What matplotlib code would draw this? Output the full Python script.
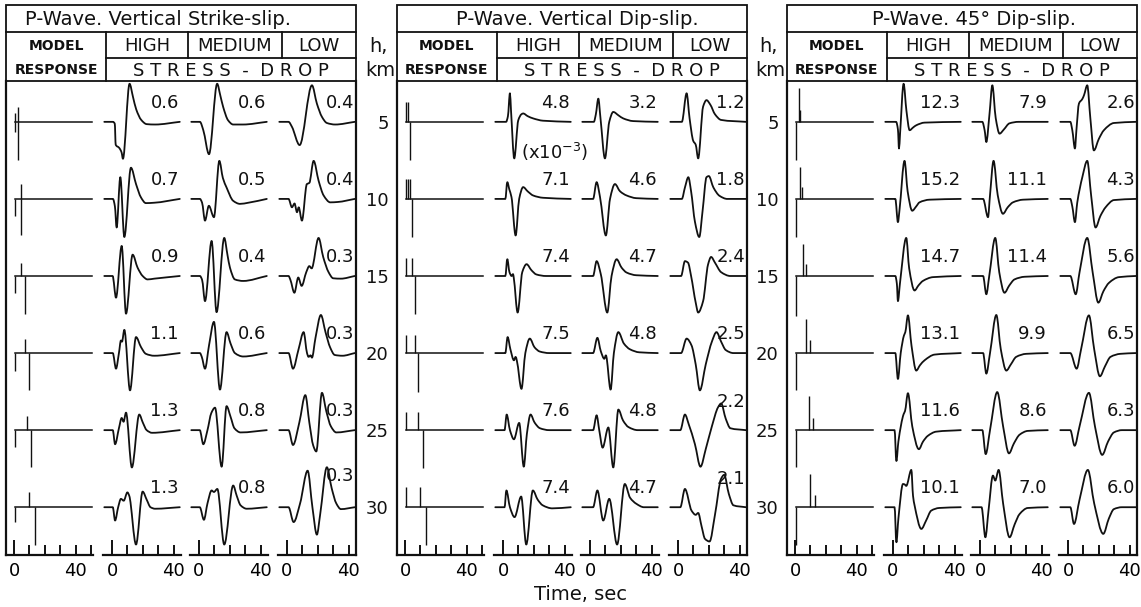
import matplotlib
matplotlib.use("Agg")
import matplotlib.pyplot as plt
from matplotlib.patches import Rectangle, PathPatch
from matplotlib.path import Path
from matplotlib.ticker import FixedLocator, FixedFormatter

# ---------------------------------------------------------------- data
DEPTHS = [5, 10, 15, 20, 25, 30]
TITLES = ["P-Wave. Vertical Strike-slip.",
          "P-Wave. Vertical Dip-slip.",
          "P-Wave. 45\u00b0 Dip-slip."]
STRESS_LEVELS = ["HIGH", "MEDIUM", "LOW"]

# peak amplitudes printed beside each trace (rows: depth, cols: HIGH/MEDIUM/LOW)
SS_AMPS = [[0.6, 0.6, 0.4], [0.7, 0.5, 0.4], [0.9, 0.4, 0.3],
           [1.1, 0.6, 0.3], [1.3, 0.8, 0.3], [1.3, 0.8, 0.3]]
DS_AMPS = [[4.8, 3.2, 1.2], [7.1, 4.6, 1.8], [7.4, 4.7, 2.4],
           [7.5, 4.8, 2.5], [7.6, 4.8, 2.2], [7.4, 4.7, 2.1]]
D45_AMPS = [[12.3, 7.9, 2.6], [15.2, 11.1, 4.3], [14.7, 11.4, 5.6],
            [13.1, 9.9, 6.5], [11.6, 8.6, 6.3], [10.1, 7.0, 6.0]]

# model (impulse) responses: (time s, relative amplitude) per depth
SS_SPIKES = [
    [(0.5, -0.26), (0.5, 0.22), (2.9, 0.39), (2.9, -1.0)],
    [(0.5, -0.44), (4.8, 0.39), (4.8, -0.96)],
    [(0.5, -0.44), (4.8, 0.35), (7.0, -1.0)],
    [(0.5, -0.46), (7.0, 0.38), (9.7, -0.98)],
    [(0.5, -0.44), (8.2, 0.36), (10.8, -0.98)],
    [(0.5, -0.39), (9.5, 0.39), (13.4, -0.98)],
]
DS_SPIKES = [
    [(0.5, 0.53), (2.2, 0.53), (3.4, -1.0)],
    [(0.5, 0.53), (2.0, 0.53), (3.3, 0.53), (4.8, -1.0)],
    [(0.5, 0.48), (4.8, 0.48), (6.7, -1.0)],
    [(0.5, 0.48), (6.7, 0.48), (8.5, -1.02)],
    [(0.5, 0.48), (8.5, 0.48), (11.7, -1.0)],
    [(0.5, 0.53), (9.5, 0.53), (13.4, -1.0)],
]
D45_SPIKES = [
    [(0.5, -1.0), (2.7, 0.88), (3.5, 0.31)],
    [(0.5, -1.0), (3.5, 0.85), (4.8, 0.31)],
    [(0.5, -1.05), (5.5, 0.85), (7.0, 0.32)],
    [(0.5, -0.98), (7.4, 0.9), (9.5, 0.35)],
    [(0.5, -0.98), (9.1, 0.9), (11.7, 0.33)],
    [(0.5, -0.98), (9.7, 0.87), (13.0, 0.32)],
]

# synthetic seismograms: (time s, normalised amplitude) per depth
SS_HIGH = [
    [(-5, 0), (0.6, 0), (1.8, -0.05), (2.4, -0.6), (4.6, -0.68), (6.2, -0.8), (7.1, -0.97), (11.4, 1.0),
     (13.6, 0.66), (15.7, 0.33), (19, 0.05), (22.5, -0.06), (28, -0.07), (44, 0)],
    [(-5, 0), (0.6, 0), (1.9, -0.2), (3.0, -0.75), (5.4, 0.57), (8.0, -1.0), (12.3, 0.82), (15.6, 0.39),
     (18.8, 0.04), (22, -0.11), (27.4, -0.1), (44, 0)],
    [(-5, 0), (0.4, 0), (2.6, -0.57), (6.3, 0.79), (9.1, -0.99), (13.4, 0.56), (16.6, 0.22), (19.9, 0.0),
     (23.1, -0.09), (27.4, -0.07), (44, 0)],
    [(-5, 0), (0.5, 0), (2.6, -0.41), (4.5, 0.0), (5.8, 0.33), (6.5, 0.3), (8.0, 0.61), (11.7, -0.98),
     (15.6, 0.42), (18.8, 0.16), (22, -0.02), (27.4, -0.07), (44, 0)],
    [(-5, 0), (0.5, 0), (2.0, -0.37), (4.5, 0.05), (6.3, 0.32), (7.5, 0.22), (9.1, 0.46), (12.9, -0.98),
     (17.7, 0.41), (20, 0.2), (22.5, 0.0), (26, -0.07), (44, 0)],
    [(-5, 0), (0.5, 0), (2.0, -0.35), (4.0, 0.0), (5.8, 0.22), (7.6, 0.17), (10.0, 0.39), (11.2, 0.3),
     (15.6, -0.98), (19.9, 0.41), (22.5, 0.2), (25, 0.0), (28, -0.04), (44, 0)],
]
SS_MEDIUM = [
    [(-5, 0), (0.6, 0), (2.8, -0.22), (6.5, -0.85), (11.8, 1.0), (13.8, 0.7), (15.7, 0.39), (18.9, 0.04),
     (22.2, -0.07), (28.6, -0.07), (44, 0)],
    [(-5, 0), (0.6, 0), (2.0, -0.1), (3.9, -0.57), (6.4, -0.18), (9.7, -0.48), (13.2, 1.0), (15.5, 0.55),
     (17.9, 0.3), (22.2, -0.05), (26.6, -0.13), (32, -0.1), (44, 0)],
    [(-5, 0), (0.6, 0), (2.0, -0.1), (3.9, -0.66), (8.2, 0.92), (11.4, -0.95), (16.4, 1.0), (18.5, 0.55),
     (20.1, 0.22), (23.3, -0.09), (28.7, -0.13), (44, 0)],
    [(-5, 0), (0.6, 0), (1.8, -0.1), (3.9, -0.41), (6.5, 0.2), (9.7, 0.82), (13.6, -0.96), (17.9, 0.55),
     (20.5, 0.25), (23.3, 0.0), (28.7, -0.09), (44, 0)],
    [(-5, 0), (0.5, 0), (2.8, -0.37), (5.5, 0.0), (8.0, 0.45), (10.4, 0.59), (14.7, -0.96), (17.9, 0.63),
     (20.5, 0.35), (23, 0.05), (27, -0.06), (44, 0)],
    [(-5, 0), (0.5, 0), (3.2, -0.33), (5.5, 0.1), (8.2, 0.44), (9.7, 0.4), (11.9, 0.48), (16.4, -0.98),
     (22.2, 0.57), (24.5, 0.3), (27, 0.05), (31, -0.04), (44, 0)],
]
SS_LOW = [
    [(-5, 0), (1.0, 0), (3.2, -0.13), (8.2, -0.61), (16.2, 0.96), (19.4, 0.48), (22.7, 0.13), (25.9, -0.03),
     (31.3, -0.07), (44, 0)],
    [(-5, 0), (1.0, 0), (3.2, -0.22), (4.9, -0.12), (6.5, -0.35), (7.6, -0.22), (9.7, -0.57), (12.9, 0.39),
     (14.5, 0.42), (17.3, 1.0), (20.5, 0.48), (23.8, 0.09), (28.1, -0.09), (33, -0.08), (44, 0)],
    [(-5, 0), (1.0, 0), (2.2, -0.1), (4.8, -0.44), (7.3, -0.04), (9.5, -0.26), (12.5, 0.1), (14.5, 0.26),
     (16, 0.2), (20.5, 1.0), (23.5, 0.5), (27, 0.1), (30, -0.06), (35, -0.07), (44, 0)],
    [(-5, 0), (1.0, 0), (3.9, -0.41), (7.5, 0.1), (10.8, 0.55), (13.0, 0.0), (14.0, -0.1), (15.3, -0.06),
     (16.2, -0.12), (18.5, 0.4), (22.0, 1.0), (25, 0.55), (28, 0.15), (31, -0.05), (36, -0.07), (44, 0)],
    [(-5, 0), (1.0, 0), (3.9, -0.39), (8.0, 0.2), (11.9, 0.92), (14.5, 0.2), (17, -0.4), (19.0, -0.56),
     (22.7, 0.98), (25.5, 0.5), (28.5, 0.1), (32, -0.06), (44, 0)],
    [(-5, 0), (1.0, 0), (4.3, -0.39), (8.5, 0.1), (13.4, 0.96), (16.5, 0.0), (19.4, -0.72), (21.5, -0.2),
     (25.9, 1.05), (29, 0.5), (32, 0.1), (35, -0.05), (44, 0)],
]
DS_HIGH = [
    [(-5, 0), (2.0, 0), (3.2, 0.15), (4.5, 0.75), (5.2, 0.3), (7.3, -0.96), (9.9, 0.04), (12.0, 0.2),
     (13.1, 0.22), (16, 0.15), (19.6, 0.09), (26, 0.03), (44, 0)],
    [(-5, 0), (1.5, 0), (2.8, 0.44), (4.1, 0.25), (5.5, 0.05), (8.2, -0.96), (10.5, 0.0), (13.1, 0.31),
     (16, 0.2), (19.6, 0.09), (26, 0.03), (44, 0)],
    [(-5, 0), (1.5, 0), (2.8, 0.44), (4.2, 0.1), (5.6, 0.0), (6.5, 0.05), (7.0, -0.05), (9.5, -0.96),
     (12.5, 0.1), (15.3, 0.31), (18.5, 0.15), (21.7, 0.04), (28, 0.0), (44, 0)],
    [(-5, 0), (1.5, 0), (3.0, 0.42), (4.8, 0.1), (7.1, -0.19), (8.2, -0.1), (9.0, -0.2), (12.0, -0.94),
     (14.5, 0.0), (17.4, 0.38), (20.5, 0.15), (23.9, 0.04), (30, 0.0), (44, 0)],
    [(-5, 0), (1.0, 0), (2.4, 0.41), (4.5, 0.0), (7.1, -0.24), (10.5, 0.19), (13.5, -0.96), (15.5, -0.1),
     (17.9, 0.41), (20.5, 0.2), (24, 0.05), (30, 0.0), (44, 0)],
    [(-5, 0), (1.0, 0), (2.2, 0.44), (4.5, 0.0), (7.5, -0.26), (11.8, 0.28), (15.1, -0.98), (19.4, 0.44),
     (22.5, 0.2), (25.8, 0.05), (32, -0.03), (44, 0)],
]
DS_MEDIUM = [
    [(-5, 0), (2.5, 0), (3.8, 0.2), (5.4, 0.61), (6.8, 0.1), (9.7, -0.96), (12.5, 0.0), (15.1, 0.26),
     (18.5, 0.17), (21.6, 0.09), (28, 0.02), (44, 0)],
    [(-5, 0), (2.0, 0), (4.3, 0.44), (6.5, 0.05), (10.3, -0.96), (13, 0.0), (16.2, 0.39), (19.5, 0.2),
     (23.8, 0.09), (30, 0.02), (44, 0)],
    [(-5, 0), (2.0, 0), (4.3, 0.39), (7.0, 0.05), (11.2, -0.96), (14, 0.0), (17.3, 0.44), (20.5, 0.22),
     (23.8, 0.09), (30, 0.02), (44, 0)],
    [(-5, 0), (2.0, 0), (4.8, 0.4), (7.0, 0.05), (9.3, -0.15), (10.3, -0.06), (13.4, -0.96), (15.5, 0.0),
     (18.4, 0.55), (22, 0.25), (25.9, 0.1), (32, 0.02), (44, 0)],
    [(-5, 0), (2.0, 0), (4.3, 0.39), (6.0, 0.0), (8.2, -0.46), (11.9, 0.07), (15.1, -0.98), (18.4, 0.54),
     (21.5, 0.25), (25, 0.08), (31, 0.0), (44, 0)],
    [(-5, 0), (2.0, 0), (4.8, 0.44), (8.6, -0.35), (12.5, 0.22), (17.6, -0.98), (22.6, 0.61), (26, 0.25),
     (30.1, 0.09), (35, 0.0), (44, 0)],
]
DS_LOW = [
    [(-5, 0), (2.5, 0), (5.6, 0.75), (7.5, 0.1), (9.9, -0.5), (11.5, -0.6), (13.1, -0.96), (16.3, 0.4),
     (18.5, 0.57), (21, 0.45), (24, 0.2), (28, 0.05), (44, 0)],
    [(-5, 0), (2.5, 0), (4.5, 0.3), (6.7, 0.57), (8.5, 0.2), (11, -0.6), (13.8, -1.0), (16, -0.3),
     (18.5, 0.57), (20, 0.6), (23, 0.3), (27, 0.08), (32, 0.0), (44, 0)],
    [(-5, 0), (2.0, 0), (4.5, 0.39), (6.5, 0.35), (8.5, 0.0), (11.5, -0.7), (13.1, -0.96), (16.3, -0.66),
     (19.5, 0.3), (21.5, 0.5), (24, 0.35), (28, 0.1), (34, 0.0), (44, 0)],
    [(-5, 0), (2.0, 0), (5.6, 0.38), (8.8, 0.2), (11.5, -0.3), (14.2, -0.98), (18, -0.3), (22, 0.3),
     (25, 0.55), (28, 0.3), (31, 0.08), (36, 0.0), (44, 0)],
    [(-5, 0), (1.5, 0), (4.5, 0.41), (7.0, 0.15), (11, -0.37), (14.6, -0.96), (18, -0.5), (22, 0.1),
     (26, 0.6), (28, 0.7), (31, 0.3), (34, 0.05), (44, 0)],
    [(-5, 0), (1.5, 0), (4.5, 0.48), (8.8, -0.09), (11.5, -0.2), (13.1, -0.15), (15.3, -0.5), (17.5, -0.83),
     (20.5, -0.9), (24, -0.2), (28, 0.75), (30, 0.85), (33, 0.35), (36, 0.05), (44, 0)],
]
D45_HIGH = [
    [(-5, 0), (2.0, 0), (3.2, -0.2), (3.9, -0.7), (4.6, -0.3), (6.9, 1.0), (8.7, 0.3), (10.8, -0.22),
     (13, -0.15), (15.1, -0.09), (20.5, -0.02), (44, 0)],
    [(-5, 0), (1.5, 0), (3.2, -0.61), (4.2, -0.3), (7.5, 1.0), (9.5, 0.2), (12.5, -0.31), (15, -0.2),
     (17.2, -0.09), (23.7, -0.02), (44, 0)],
    [(-5, 0), (1.5, 0), (2.5, -0.2), (3.2, -0.66), (4.5, -0.2), (8.6, 1.0), (10.5, 0.2), (14, -0.38),
     (16.5, -0.25), (19.4, -0.13), (25.9, -0.03), (44, 0)],
    [(-5, 0), (1.5, 0), (3.2, -0.68), (5.0, 0.0), (7.1, 0.46), (8.0, 0.55), (9.7, 0.99), (12, 0.2),
     (15.1, -0.46), (17.5, -0.32), (20.5, -0.19), (27, -0.04), (44, 0)],
    [(-5, 0), (1.0, 0), (2.2, -0.81), (3.5, -0.3), (6.9, 0.42), (7.8, 0.5), (9.7, 0.97), (12.5, 0.1),
     (16.8, -0.5), (19.5, -0.3), (22.6, -0.15), (28, -0.04), (44, 0)],
    [(-5, 0), (1.0, 0), (2.2, -0.92), (3.5, -0.3), (6.5, 0.61), (7.5, 0.6), (8.6, 0.56), (11.9, 0.98),
     (13, 0.3), (14, 0.05), (18.4, -0.57), (21.5, -0.35), (24.8, -0.09), (30, -0.02), (44, 0)],
]
D45_MEDIUM = [
    [(-5, 0), (1.5, 0), (3.0, -0.22), (4.1, -0.53), (6.2, 0.22), (8.0, 0.96), (10.2, 0.1), (12.7, -0.31),
     (15.5, -0.2), (19.1, -0.04), (25, 0.0), (44, 0)],
    [(-5, 0), (2.0, 0), (5.2, -0.48), (6.5, 0.1), (8.8, 1.0), (11.5, 0.1), (14.9, -0.39), (18, -0.22),
     (21.4, -0.09), (27.9, -0.02), (44, 0)],
    [(-5, 0), (2.0, 0), (4.1, -0.48), (6.0, 0.0), (9.9, 1.0), (12.5, 0.1), (15.9, -0.44), (19, -0.25),
     (22.4, -0.09), (29, -0.02), (44, 0)],
    [(-5, 0), (2.0, 0), (4.1, -0.54), (6.5, 0.0), (10.6, 1.0), (13.5, 0.1), (17.1, -0.46), (20, -0.3),
     (23.5, -0.1), (30, -0.02), (44, 0)],
    [(-5, 0), (1.5, 0), (3.7, -0.63), (6.5, 0.0), (11.2, 1.0), (15, 0.1), (18.8, -0.61), (22, -0.35),
     (25.7, -0.12), (31, -0.02), (44, 0)],
    [(-5, 0), (1.0, 0), (3.5, -0.79), (5.5, -0.1), (8.4, 0.83), (9.9, 0.7), (12.1, 0.98), (15, 0.1),
     (19.2, -0.79), (22.5, -0.45), (25.7, -0.18), (31, -0.02), (44, 0)],
]
D45_LOW = [
    [(-5, 0), (1.5, 0), (2.8, -0.22), (4.5, -0.7), (5.5, -0.2), (7.1, 0.48), (9.3, 0.6), (10.4, 0.7),
     (12.5, 0.96), (14.5, 0.1), (16.8, -0.75), (20, -0.45), (23.3, -0.22), (29.8, -0.03), (44, 0)],
    [(-5, 0), (1.5, 0), (2.8, -0.2), (4.5, -0.61), (6.0, -0.1), (9.3, 0.57), (12.5, 1.0), (15, 0.1),
     (17.9, -0.75), (21, -0.45), (24.4, -0.22), (29.8, -0.03), (44, 0)],
    [(-5, 0), (1.5, 0), (5.0, -0.48), (7.5, 0.1), (12.5, 1.0), (16, 0.1), (19.7, -0.7), (23, -0.4),
     (26.6, -0.18), (33, -0.03), (44, 0)],
    [(-5, 0), (1.5, 0), (5.6, -0.41), (8.5, 0.1), (13.6, 0.99), (17, 0.1), (20.7, -0.61), (24, -0.35),
     (27.6, -0.1), (34, -0.02), (44, 0)],
    [(-5, 0), (1.5, 0), (4.3, -0.41), (7.5, 0.1), (13.6, 0.98), (17.5, 0.1), (22.2, -0.65), (26, -0.3),
     (29.8, -0.06), (35, 0.0), (44, 0)],
    [(-5, 0), (1.5, 0), (3.9, -0.44), (7.5, 0.2), (12.9, 0.98), (17, 0.1), (22.9, -0.7), (26.5, -0.3),
     (29.8, -0.05), (35, 0.0), (44, 0)],
]

PANEL_SPIKES = [SS_SPIKES, DS_SPIKES, D45_SPIKES]
PANEL_WAVES = [[SS_HIGH, SS_MEDIUM, SS_LOW],
               [DS_HIGH, DS_MEDIUM, DS_LOW],
               [D45_HIGH, D45_MEDIUM, D45_LOW]]
PANEL_AMPS = [SS_AMPS, DS_AMPS, D45_AMPS]

# ---------------------------------------------------------------- layout (pixels)
W, H = 1141, 607
INK = "#111111"
HEAD_TOP, ROW1, ROW2, HEAD_BOT, BODY_BOT = 5, 32, 58, 81, 555
PANEL_X = [6, 397, 787]
PANEL_W = 350
DIVIDERS = [100, 182, 276]          # header cell borders, from panel left edge
TICK0 = [8, 106, 193, 281]          # position of t = 0 for each column
PX_PER_S = 1.54
MODEL_XLIM = (-5.2, 51.0)
TRACE_XLIM = (-6.0, 44.5)
DEPTH_TOP, DEPTH_BOT = 2.35, 33.1
AMP_SCALE = 2.47                    # depth units per unit of normalised amplitude
TITLE_CX = [152, 180, 187]

plt.rcParams["font.family"] = ["DejaVu Sans"]

fig = plt.figure(figsize=(W / 100, H / 100), dpi=100)
fig.patch.set_facecolor("white")

over = fig.add_axes([0, 0, 1, 1])
over.set_xlim(0, W)
over.set_ylim(H, 0)
over.axis("off")


def px_axes(left, top, width, height):
    return fig.add_axes([left / W, 1 - (top + height) / H, width / W, height / H])


def frame_line(xs, ys):
    over.plot(xs, ys, color=INK, lw=1.3, solid_capstyle="projecting")


def smooth_trace_path(ts, ys):
    """Shape-preserving cubic (monotone Hermite) drawn as Bezier segments."""
    n = len(ts)
    h = [ts[i + 1] - ts[i] for i in range(n - 1)]
    d = [(ys[i + 1] - ys[i]) / h[i] for i in range(n - 1)]
    m = [0.0] * n
    m[0], m[-1] = d[0], d[-1]
    for i in range(1, n - 1):
        if d[i - 1] * d[i] <= 0:
            m[i] = 0.0
        else:
            w1 = 2 * h[i] + h[i - 1]
            w2 = h[i] + 2 * h[i - 1]
            m[i] = (w1 + w2) / (w1 / d[i - 1] + w2 / d[i])
    verts = [(ts[0], ys[0])]
    codes = [Path.MOVETO]
    for i in range(n - 1):
        k = h[i] / 3.0
        verts += [(ts[i] + k, ys[i] + m[i] * k),
                  (ts[i + 1] - k, ys[i + 1] - m[i + 1] * k),
                  (ts[i + 1], ys[i + 1])]
        codes += [Path.CURVE4] * 3
    return Path(verts, codes)


def time_axis(ax, xlim, minor):
    ax.set_xlim(*xlim)
    ax.set_ylim(DEPTH_BOT, DEPTH_TOP)
    ax.patch.set_visible(False)
    for side in ("top", "right", "left"):
        ax.spines[side].set_visible(False)
    for side in ("bottom", "left", "right"):
        ax.spines[side].set_linewidth(1.6)
        ax.spines[side].set_color(INK)
    ax.xaxis.set_major_locator(FixedLocator([0]))
    ax.xaxis.set_major_formatter(FixedFormatter(["0"]))
    ax.xaxis.set_minor_locator(FixedLocator(minor))
    ax.xaxis.set_minor_formatter(FixedFormatter(["40" if m == 40 else "" for m in minor]))
    ax.tick_params(axis="x", which="major", direction="in", length=11, width=1.4,
                   labelsize=13, pad=5, color=INK)
    ax.tick_params(axis="x", which="minor", direction="in", length=7, width=1.4,
                   labelsize=13, pad=5, color=INK)
    ax.set_yticks([])


label_lift = {(0, 5, 2): 0.8, (1, 4, 2): 0.6, (1, 5, 2): 0.6}

for p, title in enumerate(TITLES):
    P = PANEL_X[p]

    # ---- header table
    over.add_patch(Rectangle((P, HEAD_TOP), PANEL_W, HEAD_BOT - HEAD_TOP,
                             fill=False, lw=1.3, ec=INK))
    frame_line([P, P + PANEL_W], [ROW1, ROW1])
    frame_line([P + DIVIDERS[0], P + PANEL_W], [ROW2, ROW2])
    frame_line([P + DIVIDERS[0]] * 2, [ROW1, HEAD_BOT])
    frame_line([P + DIVIDERS[1]] * 2, [ROW1, ROW2])
    frame_line([P + DIVIDERS[2]] * 2, [ROW1, ROW2])

    over.text(P + TITLE_CX[p], (HEAD_TOP + ROW1) / 2 + 1, title, ha="center", va="center",
              fontsize=14, color=INK)
    over.text(P + 50, (ROW1 + ROW2) / 2 + 1, "MODEL", ha="center", va="center",
              fontsize=10, fontweight="bold", color=INK,
              family=["Liberation Sans Narrow", "DejaVu Sans"])
    over.text(P + 50, (ROW2 + HEAD_BOT) / 2 + 1, "RESPONSE", ha="center", va="center",
              fontsize=10, fontweight="bold", color=INK,
              family=["Liberation Sans Narrow", "DejaVu Sans"])
    cells = [DIVIDERS[0], DIVIDERS[1], DIVIDERS[2], PANEL_W]
    for c, level in enumerate(STRESS_LEVELS):
        over.text(P + (cells[c] + cells[c + 1]) / 2, (ROW1 + ROW2) / 2 + 1, level,
                  ha="center", va="center", fontsize=13, color=INK)
    over.text(P + (DIVIDERS[0] + PANEL_W) / 2, (ROW2 + HEAD_BOT) / 2 + 1,
              "S T R E S S  -  D R O P", ha="center", va="center", fontsize=13, color=INK)
    if p > 0:
        over.text(P - 19, (ROW1 + ROW2) / 2 + 1, "h,", ha="center", va="center",
                  fontsize=14, color=INK)
        over.text(P - 17, (ROW2 + HEAD_BOT) / 2 + 1, "km", ha="center", va="center",
                  fontsize=14, color=INK)

    # ---- model response column
    mw = (MODEL_XLIM[1] - MODEL_XLIM[0]) * PX_PER_S
    max_ = px_axes(P, HEAD_BOT, mw, BODY_BOT - HEAD_BOT)
    time_axis(max_, MODEL_XLIM, [10, 20, 30, 40, 50])
    max_.spines["left"].set_visible(True)
    if p > 0:
        max_.set_yticks(DEPTHS)
        max_.set_yticklabels([str(d) for d in DEPTHS])
        max_.tick_params(axis="y", length=0, pad=6, labelsize=13, labelcolor=INK)
    for d, spikes in zip(DEPTHS, PANEL_SPIKES[p]):
        ts = [s[0] for s in spikes]
        amps = [s[1] for s in spikes]
        max_.plot([ts[0], 50.5], [d, d], color=INK, lw=1.1)
        max_.vlines(ts, d, [d - AMP_SCALE * a for a in amps], color=INK, lw=1.0)

    # ---- stress-drop columns
    tw = (TRACE_XLIM[1] - TRACE_XLIM[0]) * PX_PER_S
    for c in range(3):
        left = P + TICK0[c + 1] + TRACE_XLIM[0] * PX_PER_S
        ax = px_axes(left, HEAD_BOT, tw, BODY_BOT - HEAD_BOT)
        time_axis(ax, TRACE_XLIM, [10, 20, 30, 40])
        if c == 2:
            ax.spines["right"].set_visible(True)
        for r, (d, knots) in enumerate(zip(DEPTHS, PANEL_WAVES[p][c])):
            ts = [k[0] for k in knots]
            ys = [d - AMP_SCALE * k[1] for k in knots]
            ax.add_patch(PathPatch(smooth_trace_path(ts, ys), fill=False, ec=INK,
                                   lw=1.3, joinstyle="round", capstyle="round"))
            lift = label_lift.get((p, r, c), 0.0)
            ax.text(43.5, d - 1.25 - lift, f"{PANEL_AMPS[p][r][c]:.1f}", ha="right",
                    va="center", fontsize=13, color=INK, clip_on=False)
        if p == 1 and c == 0:
            ax.text(12, DEPTHS[0] + 1.95, r"(x10$^{-3}$)", ha="left", va="center",
                    fontsize=13, color=INK, clip_on=False)

over.text(580, 594, "Time, sec", ha="center", va="center", fontsize=14, color=INK)

fig.savefig("out.png", dpi=100, facecolor="white")
